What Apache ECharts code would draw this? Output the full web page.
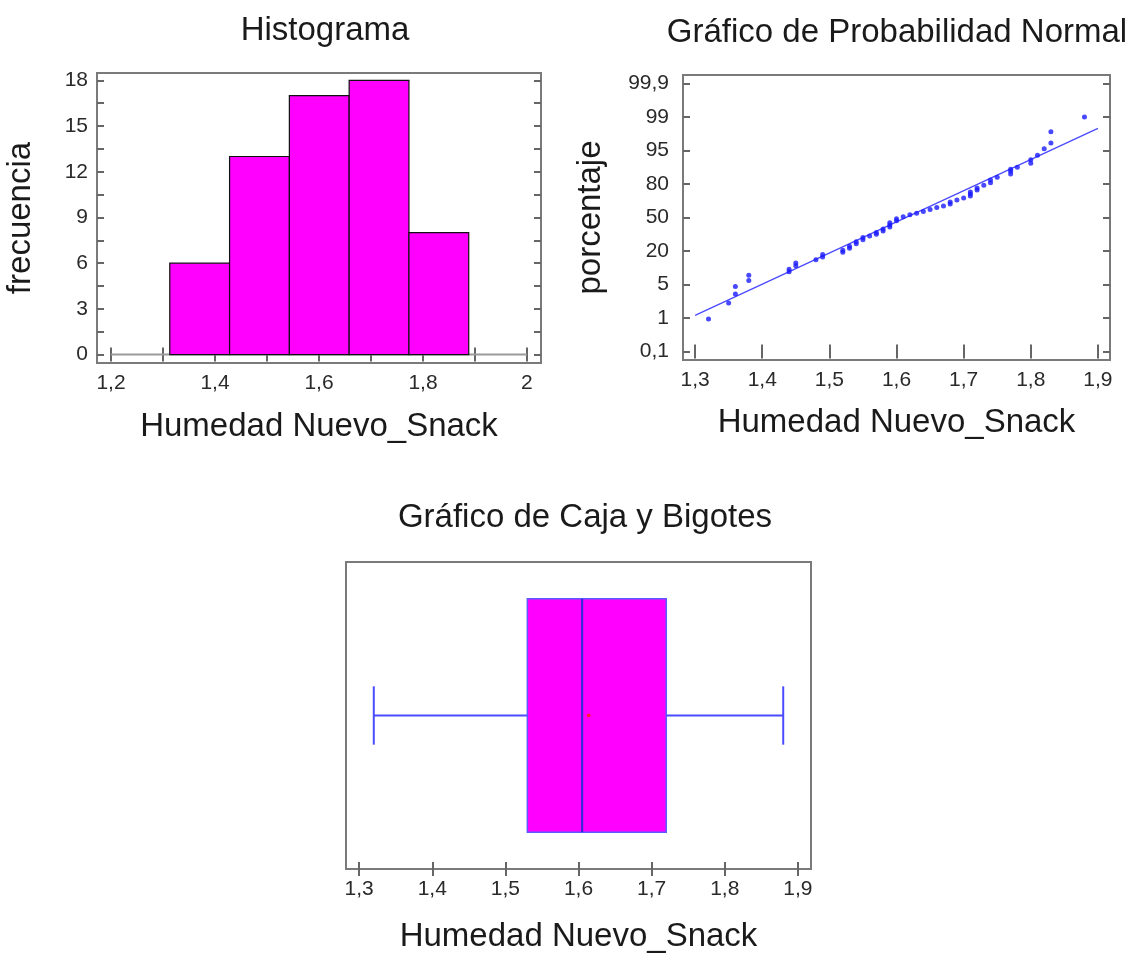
<!DOCTYPE html>
<html><head><meta charset="utf-8">
<script src="https://cdn.jsdelivr.net/npm/echarts@6/dist/echarts.min.js"></script>
<style>html,body{margin:0;padding:0;background:#fff}#c{width:1128px;height:954px}</style>
</head><body><div id="c"></div>
<script>
// ---------- data ----------
const histEdges = [1.313, 1.428, 1.543, 1.658, 1.773, 1.888];
const histCounts = [6, 13, 17, 18, 8];
const histXTicks = [1.2, 1.4, 1.6, 1.8, 2.0];
const histXMinor = [1.2, 1.3, 1.4, 1.5, 1.6, 1.7, 1.8, 1.9, 2.0];
const histYTicks = [0, 3, 6, 9, 12, 15, 18];
const histYMinor = [0, 1.5, 3, 4.5, 6, 7.5, 9, 10.5, 12, 13.5, 15, 16.5, 18];

const probX = [1.32, 1.35, 1.36, 1.36, 1.38, 1.38,
  1.44, 1.44, 1.45, 1.45, 1.48, 1.49, 1.49, 1.52, 1.52, 1.53, 1.53, 1.54, 1.54,
  1.55, 1.55, 1.56, 1.57, 1.57, 1.58, 1.58, 1.59, 1.59, 1.59, 1.60, 1.60, 1.61, 1.62, 1.63, 1.64, 1.65,
  1.66, 1.67, 1.68, 1.68, 1.69, 1.70, 1.71, 1.71, 1.71, 1.72, 1.72, 1.73, 1.74, 1.74, 1.75, 1.77, 1.77, 1.77,
  1.78, 1.80, 1.80, 1.81, 1.82, 1.83, 1.83, 1.88];
// position on the probability axis (0 = 0,1% ... 8 = 99,9%)
const probPos = [0.97, 1.45, 1.72, 1.94, 2.12, 2.28,
  2.38, 2.46, 2.56, 2.64, 2.74, 2.82, 2.90, 2.96, 3.02, 3.08, 3.14, 3.22, 3.28,
  3.34, 3.40, 3.45, 3.50, 3.55, 3.60, 3.66, 3.72, 3.78, 3.84, 3.90, 3.96, 4.02, 4.08, 4.13, 4.18, 4.24,
  4.30, 4.34, 4.40, 4.46, 4.52, 4.58, 4.64, 4.70, 4.76, 4.82, 4.88, 4.96, 5.04, 5.12, 5.20, 5.30, 5.38, 5.44,
  5.50, 5.62, 5.72, 5.86, 6.05, 6.22, 6.56, 7.00];
const probTickLabels = ['0,1', '1', '5', '20', '50', '80', '95', '99', '99,9'];
const probTickPos = [0, 1, 2, 3, 4, 5, 6, 7, 8];
const fitX = [1.30, 1.90];
const fitPos = [1.08, 6.66];
const probXTicks = [1.3, 1.4, 1.5, 1.6, 1.7, 1.8, 1.9];

const boxStats = [1.32, 1.53, 1.605, 1.72, 1.88]; // min, Q1, median, Q3, max
const boxMean = 1.614;
const boxXTicks = [1.3, 1.4, 1.5, 1.6, 1.7, 1.8, 1.9];

// ---------- styling ----------
const FONT = "'Liberation Sans', Arial, sans-serif";
const TICK_FS = 21, NAME_FS = 33, TITLE_FS = 33;
const FRAME = '#7a7a7a';
const fmt = v => (Math.round(v * 10) / 10).toString().replace('.', ',');

function xAxisPair(gridIndex, min, max, labelVals, tickVals, name, nameGap) {
  return [{
    type: 'value', gridIndex, min, max, position: 'bottom',
    name, nameLocation: 'middle', nameGap,
    nameTextStyle: { fontFamily: FONT, fontSize: NAME_FS, color: '#1a1a1a' },
    axisLine: { show: false },
    axisTick: { show: true, inside: true, length: 7, customValues: tickVals, lineStyle: { color: '#666', width: 2 } },
    axisLabel: { customValues: labelVals, formatter: fmt, fontFamily: FONT, fontSize: TICK_FS, color: '#2a2a2a', margin: 10 },
    splitLine: { show: false }
  }, {
    type: 'value', gridIndex, min, max, position: 'top',
    axisLine: { show: false },
    axisTick: { show: true, inside: true, length: 7, customValues: tickVals, lineStyle: { color: '#666', width: 2 } },
    axisLabel: { show: false },
    splitLine: { show: false }
  }];
}

function yAxisPair(gridIndex, min, max, labelVals, tickVals, formatter, name, nameGap, showTicks, margin) {
  return [{
    type: 'value', gridIndex, min, max, position: 'left',
    name, nameLocation: 'middle', nameGap,
    nameTextStyle: { fontFamily: FONT, fontSize: NAME_FS, color: '#1a1a1a' },
    axisLine: { show: false },
    axisTick: { show: showTicks, inside: true, length: 7, customValues: tickVals, lineStyle: { color: '#666', width: 2 } },
    axisLabel: { show: showTicks, customValues: labelVals, formatter, fontFamily: FONT, fontSize: TICK_FS, color: '#2a2a2a', margin },
    splitLine: { show: false }
  }, {
    type: 'value', gridIndex, min, max, position: 'right',
    axisLine: { show: false },
    axisTick: { show: showTicks, inside: true, length: 7, customValues: tickVals, lineStyle: { color: '#666', width: 2 } },
    axisLabel: { show: false },
    splitLine: { show: false }
  }];
}

const histData = histCounts.map((c, i) => [histEdges[i], histEdges[i + 1], c]);
const probData = probX.map((x, i) => [x, probPos[i]]);

const gridStyle = { show: true, borderColor: FRAME, borderWidth: 2, backgroundColor: '#fff', containLabel: false };
const titleStyle = { fontFamily: FONT, fontSize: TITLE_FS, fontWeight: 'normal', color: '#1a1a1a' };

const option = {
  backgroundColor: '#fff',
  animation: false,
  title: [
    { text: 'Histograma', left: 320, top: 9, textAlign: 'center', textStyle: titleStyle },
    { text: 'Gráfico de Probabilidad Normal', left: 892, top: 11, textAlign: 'center', textStyle: titleStyle },
    { text: 'Gráfico de Caja y Bigotes', left: 580, top: 496, textAlign: 'center', textStyle: titleStyle }
  ],
  grid: [
    Object.assign({ left: 97, top: 73, width: 444, height: 290 }, gridStyle),
    Object.assign({ left: 683, top: 75, width: 427, height: 285 }, gridStyle),
    Object.assign({ left: 346, top: 562, width: 465, height: 308 }, gridStyle)
  ],
  xAxis: [
    ...xAxisPair(0, 1.173, 2.027, histXTicks, histXMinor, 'Humedad Nuevo_Snack', 47),
    ...xAxisPair(1, 1.282, 1.918, probXTicks, probXTicks, 'Humedad Nuevo_Snack', 46),
    ...xAxisPair(2, 1.282, 1.918, boxXTicks, boxXTicks, 'Humedad Nuevo_Snack', 51)
  ],
  yAxis: [
    ...yAxisPair(0, -0.55, 18.48, histYTicks, histYMinor, v => String(Math.round(v)), 'frecuencia', 60, true, 9),
    ...yAxisPair(1, -0.25, 8.25, probTickPos, probTickPos, v => probTickLabels[Math.round(v)], 'porcentaje', 76, true, 14),
    ...yAxisPair(2, 0, 1, [], [], null, '', 0, false, 0)
  ],
  series: [
    {
      type: 'line', xAxisIndex: 0, yAxisIndex: 0, silent: true, symbol: 'none', z: 1,
      lineStyle: { color: '#9a9a9a', width: 2 },
      data: [[histXTicks[0], 0], [histXTicks[histXTicks.length - 1], 0]]
    },
    {
      type: 'custom', xAxisIndex: 0, yAxisIndex: 0, z: 3,
      encode: { x: [0, 1], y: 2 },
      data: histData,
      renderItem(params, api) {
        const p0 = api.coord([api.value(0), api.value(2)]);
        const p1 = api.coord([api.value(1), 0]);
        return { type: 'rect', shape: { x: p0[0], y: p0[1], width: p1[0] - p0[0], height: p1[1] - p0[1] },
          style: { fill: '#ff00ff', stroke: '#111', lineWidth: 1.2 } };
      }
    },
    {
      type: 'line', xAxisIndex: 2, yAxisIndex: 2, silent: true, symbol: 'none', z: 2,
      lineStyle: { color: '#4a4aff', width: 1.3 },
      data: fitX.map((x, i) => [x, fitPos[i]])
    },
    {
      type: 'scatter', xAxisIndex: 2, yAxisIndex: 2, z: 3,
      symbol: 'circle', symbolSize: 5,
      itemStyle: { color: '#1a1aff' },
      data: probData
    },
    {
      type: 'custom', xAxisIndex: 4, yAxisIndex: 4, z: 3,
      encode: { x: [0, 1, 2, 3, 4] },
      data: [boxStats.concat([boxMean])],
      renderItem(params, api) {
        const yc = 0.5, boxHalf = 0.38, capHalf = 0.095;
        const pMin = api.coord([api.value(0), yc]);
        const pQ1 = api.coord([api.value(1), yc]);
        const pMed = api.coord([api.value(2), yc]);
        const pQ3 = api.coord([api.value(3), yc]);
        const pMax = api.coord([api.value(4), yc]);
        const pMean = api.coord([api.value(5), yc]);
        const top = api.coord([api.value(1), yc + boxHalf])[1];
        const bot = api.coord([api.value(1), yc - boxHalf])[1];
        const cTop = api.coord([api.value(0), yc + capHalf])[1];
        const cBot = api.coord([api.value(0), yc - capHalf])[1];
        const line = '#4b4bff';
        return { type: 'group', children: [
          { type: 'line', shape: { x1: pMin[0], y1: pMin[1], x2: pQ1[0], y2: pQ1[1] }, style: { stroke: line, lineWidth: 2 } },
          { type: 'line', shape: { x1: pQ3[0], y1: pQ3[1], x2: pMax[0], y2: pMax[1] }, style: { stroke: line, lineWidth: 2 } },
          { type: 'line', shape: { x1: pMin[0], y1: cTop, x2: pMin[0], y2: cBot }, style: { stroke: line, lineWidth: 2 } },
          { type: 'line', shape: { x1: pMax[0], y1: cTop, x2: pMax[0], y2: cBot }, style: { stroke: line, lineWidth: 2 } },
          { type: 'rect', shape: { x: pQ1[0], y: top, width: pQ3[0] - pQ1[0], height: bot - top }, style: { fill: '#ff00ff', stroke: '#5a5aff', lineWidth: 1.5 } },
          { type: 'line', shape: { x1: pMed[0], y1: top, x2: pMed[0], y2: bot }, style: { stroke: '#2a2ad8', lineWidth: 2 } },
          { type: 'circle', shape: { cx: pMean[0], cy: pMean[1], r: 1.8 }, style: { fill: '#ff2020' } }
        ] };
      }
    }
  ]
};

const chart = echarts.init(document.getElementById('c'), null, { renderer: 'canvas' });
chart.setOption(option);
</script>
</body></html>
